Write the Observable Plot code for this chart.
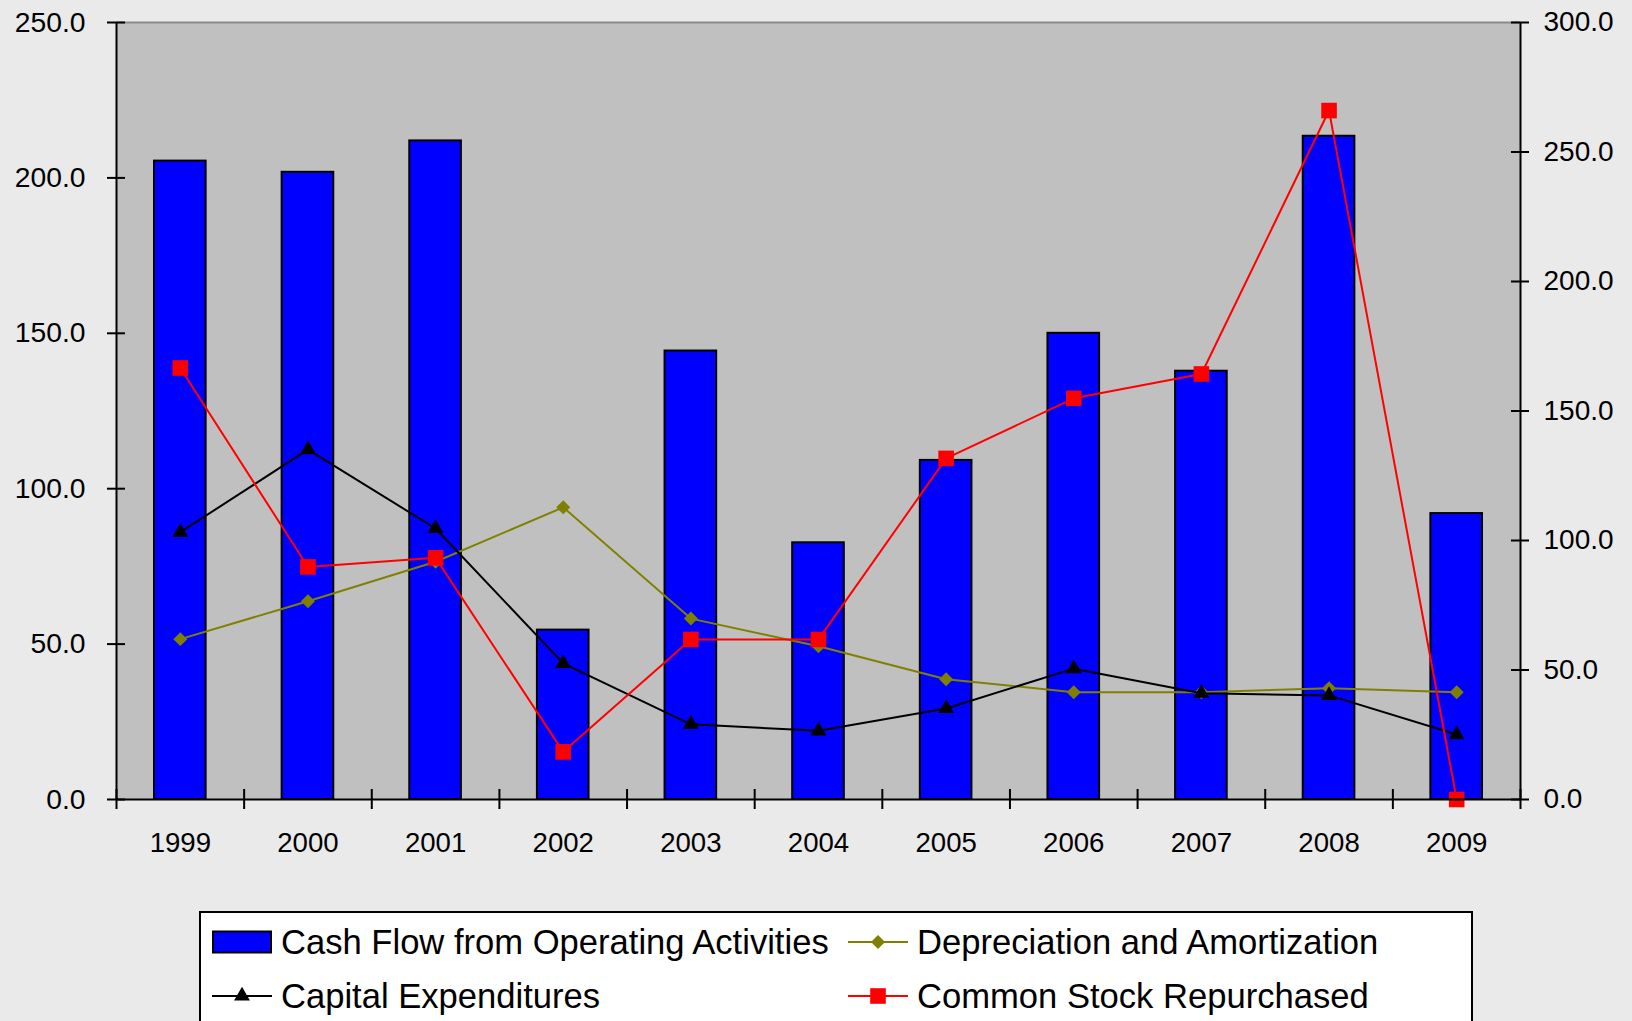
<!DOCTYPE html>
<html>
<head>
<meta charset="utf-8">
<script src="https://cdn.jsdelivr.net/npm/d3@7"></script>
<script src="https://cdn.jsdelivr.net/npm/@observablehq/plot@0.6"></script>
<style>
html, body { margin: 0; padding: 0; background: #eaeaea; overflow: hidden; width: 1632px; height: 1021px; font-family: "Liberation Sans", Arial, sans-serif; }
#chart { position: absolute; left: 0; top: 0; }
#legend { position: absolute; left: 199px; top: 911px; width: 1270px; height: 140px; background: #fff; border: 2px solid #000; }
.item { position: absolute; display: flex; align-items: center; height: 40px; font-size: 34.6px; color: #000; white-space: nowrap; }
.item span { margin-left: 9px; }
</style>
</head>
<body>
<div id="chart"></div>
<div id="legend"></div>
<script>
// ---- Data ----
const years = [1999, 2000, 2001, 2002, 2003, 2004, 2005, 2006, 2007, 2008, 2009];
const cashFlowOperating = [205.4, 201.8, 211.9, 54.5, 144.3, 82.6, 109.1, 150.0, 137.8, 213.4, 92.0];   // left axis
const depreciationAmortization = [51.6, 63.8, 76.5, 94.0, 58.2, 49.3, 38.7, 34.5, 34.5, 35.8, 34.5];   // left axis
const capitalExpenditures = [86.0, 112.6, 87.2, 43.8, 24.2, 22.1, 29.3, 42.1, 34.2, 33.5, 20.9];       // left axis
const commonStockRepurchased = [166.6, 89.8, 93.3, 18.4, 61.8, 61.8, 131.7, 154.9, 164.3, 266.0, 0.0]; // right axis
const leftTicks = [0, 50, 100, 150, 200, 250];
const rightTicks = [0, 50, 100, 150, 200, 250, 300];
const seriesNames = ["Cash Flow from Operating Activities", "Depreciation and Amortization", "Capital Expenditures", "Common Stock Repurchased"];

// ---- Build ----
const leftMax = d3.max(leftTicks), rightMax = d3.max(rightTicks);
const toLeft = v => v * leftMax / rightMax;
const data = years.map((year, i) => ({
  year,
  cash: cashFlowOperating[i],
  dep: depreciationAmortization[i],
  capex: capitalExpenditures[i],
  stock: commonStockRepurchased[i]
}));
const xMin = years[0] - 0.5, xMax = years[years.length - 1] + 0.5;
const boundaries = [...years.map(y => y - 0.5), xMax];
const fmt = d3.format(".1f");

const OLIVE = "#808000", BLUE = "#0000ff", RED = "#ff0000";

const chart = Plot.plot({
  width: 1632,
  height: 880,
  marginLeft: 116,
  marginRight: 112,
  marginTop: 22,
  marginBottom: 81,
  style: { background: "transparent", fontFamily: "'Liberation Sans', Arial, sans-serif", color: "black", overflow: "visible" },
  x: { domain: [xMin, xMax], label: null },
  y: { domain: [0, leftMax], label: null },
  marks: [
    Plot.frame({ fill: "#c0c0c0", stroke: "none" }),
    Plot.ruleY([leftMax], { stroke: "#8a8a8a", strokeWidth: 2 }),
    Plot.rectY(data, { x1: d => d.year - 0.5, x2: d => d.year + 0.5, y: "cash", insetLeft: 38, insetRight: 38, fill: BLUE, stroke: "black", strokeWidth: 2 }),
    Plot.line(data, { x: "year", y: "dep", stroke: OLIVE, strokeWidth: 2 }),
    Plot.dot(data, { x: "year", y: "dep", symbol: "diamond2", r: 6.3, fill: OLIVE }),
    Plot.line(data, { x: "year", y: "capex", stroke: "black", strokeWidth: 2 }),
    Plot.dot(data, { x: "year", y: "capex", symbol: "triangle", r: 5.9, fill: "black" }),
    Plot.line(data, { x: "year", y: d => toLeft(d.stock), stroke: RED, strokeWidth: 2 }),
    Plot.dot(data, { x: "year", y: d => toLeft(d.stock), symbol: "square", r: 8.8, fill: RED }),
    // axis lines
    Plot.ruleX([xMin, xMax], { stroke: "black", strokeWidth: 2 }),
    Plot.ruleY([0], { stroke: "black", strokeWidth: 2 }),
    // cross ticks
    Plot.ruleY(leftTicks, { y: d => d, x1: xMin, x2: xMin, insetLeft: 9, insetRight: 9, stroke: "black", strokeWidth: 2 }),
    Plot.ruleY(rightTicks.map(toLeft), { y: d => d, x1: xMax, x2: xMax, insetLeft: 9, insetRight: 9, stroke: "black", strokeWidth: 2 }),
    Plot.ruleX(boundaries, { x: d => d, y1: 0, y2: 0, insetTop: 10, insetBottom: 10, stroke: "black", strokeWidth: 2 }),
    // tick labels
    Plot.axisX({ ticks: years, tickFormat: d => String(d), tickSize: 0, tickPadding: 32.5, fontSize: 27.6, label: null }),
    Plot.axisY({ anchor: "left", ticks: leftTicks, tickFormat: fmt, tickSize: 0, tickPadding: 31, fontSize: 28.3, label: null }),
    Plot.axisY({ anchor: "right", ticks: rightTicks.map(toLeft), tickFormat: d => fmt(d * rightMax / leftMax), tickSize: 0, tickPadding: 23, fontSize: 28, label: null })
  ]
});
document.getElementById("chart").appendChild(chart);

// ---- Legend (HTML below the SVG) ----
const legend = document.getElementById("legend");
const items = [
  { name: seriesNames[0], kind: "bar", color: BLUE, left: 11, cy: 29 },
  { name: seriesNames[1], kind: "line", color: OLIVE, symbol: d3.symbolDiamond2, size: Math.PI * 6.3 * 6.3, left: 647, cy: 29 },
  { name: seriesNames[2], kind: "line", color: "black", symbol: d3.symbolTriangle, size: Math.PI * 5.9 * 5.9, left: 11, cy: 83 },
  { name: seriesNames[3], kind: "line", color: RED, symbol: d3.symbolSquare, size: Math.PI * 8.8 * 8.8, left: 647, cy: 83 }
];
for (const it of items) {
  const div = document.createElement("div");
  div.className = "item";
  div.style.left = it.left + "px";
  div.style.top = (it.cy - 20) + "px";
  const svg = d3.create("svg").attr("width", 60).attr("height", 40);
  if (it.kind === "bar") {
    svg.append("rect").attr("x", 1).attr("y", 9.5).attr("width", 58).attr("height", 21)
      .attr("fill", it.color).attr("stroke", "black").attr("stroke-width", 2);
  } else {
    svg.append("line").attr("x1", 0).attr("x2", 60).attr("y1", 20).attr("y2", 20)
      .attr("stroke", it.color).attr("stroke-width", 2);
    svg.append("path").attr("transform", "translate(30,20)")
      .attr("d", d3.symbol(it.symbol, it.size)()).attr("fill", it.color);
  }
  div.appendChild(svg.node());
  const span = document.createElement("span");
  span.textContent = it.name;
  div.appendChild(span);
  legend.appendChild(div);
}
</script>
</body>
</html>
